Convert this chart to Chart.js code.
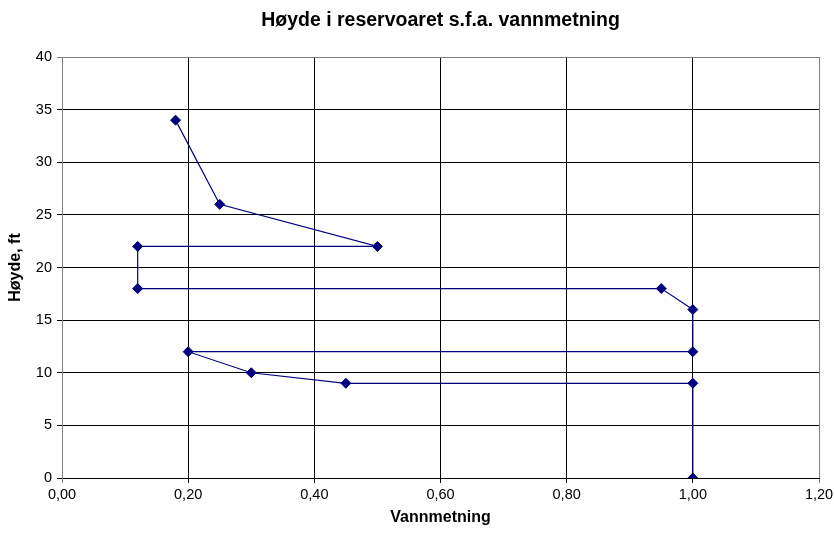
<!DOCTYPE html>
<html>
<head>
<meta charset="utf-8">
<script src="https://cdn.jsdelivr.net/npm/chart.js@4"></script>
<style>
  html, body { margin: 0; padding: 0; background: #fff; }
  #wrap { width: 834px; height: 540px; }
</style>
</head>
<body>
<div id="wrap"><canvas id="c" width="834" height="540"></canvas></div>
<script>
const chartTitle = 'Høyde i reservoaret s.f.a. vannmetning';
const xAxisTitle = 'Vannmetning';
const yAxisTitle = 'Høyde, ft';
const vannmetning = [0.18, 0.25, 0.50, 0.12, 0.12, 0.95, 1.00, 1.00, 0.20, 0.30, 0.45, 1.00, 1.00];
const hoyde       = [34,   26,   22,   22,   18,   18,   16,   12,   12,   10,   9,    9,    0];
const xTicks = [0, 0.2, 0.4, 0.6, 0.8, 1.0, 1.2];
const yTicks = [0, 5, 10, 15, 20, 25, 30, 35, 40];

const points = vannmetning.map((x, i) => ({ x: x, y: hoyde[i] }));
const FONT = '"Liberation Sans", Arial, sans-serif';
const GRAY = '#808080';

const titlePlugin = {
  id: 'customTitle',
  afterDraw(chart) {
    const ctx = chart.ctx;
    const a = chart.chartArea;
    ctx.save();
    ctx.font = 'bold 19.5px ' + FONT;
    ctx.fillStyle = '#000';
    ctx.textAlign = 'center';
    ctx.textBaseline = 'middle';
    ctx.fillText(chartTitle, (a.left + a.right) / 2, 21);
    ctx.restore();
  }
};

new Chart(document.getElementById('c'), {
  type: 'scatter',
  data: {
    datasets: [{
      data: points,
      showLine: true,
      borderColor: '#000080',
      borderWidth: 1.2,
      backgroundColor: '#000080',
      pointStyle: 'rectRot',
      pointRadius: 5,
      pointHoverRadius: 5,
      pointBorderWidth: 1,
      pointBorderColor: '#000080',
      tension: 0
    }]
  },
  plugins: [titlePlugin],
  options: {
    responsive: false,
    animation: false,
    events: [],
    layout: { padding: { top: 57, right: 15, bottom: 0, left: 0 } },
    plugins: { legend: { display: false }, tooltip: { enabled: false }, title: { display: false } },
    scales: {
      x: {
        type: 'linear',
        min: 0, max: 1.2,
        afterBuildTicks(scale) { scale.ticks = xTicks.map(v => ({ value: v })); },
        afterFit(scale) { scale.height = 62; scale.paddingRight = 0; },
        ticks: {
          color: '#000',
          font: { family: FONT, size: 14.5 },
          padding: 3,
          maxRotation: 0,
          autoSkip: false,
          callback: v => v.toFixed(2).replace('.', ',')
        },
        grid: {
          color: c => (c.tick && (Math.abs(c.tick.value) < 1e-9 || Math.abs(c.tick.value - 1.2) < 1e-9)) ? GRAY : '#000',
          lineWidth: 1,
          tickLength: 5
        },
        border: { color: '#000', width: 1 },
        title: {
          display: true,
          text: xAxisTitle,
          color: '#000',
          font: { family: FONT, size: 16, weight: 'bold' },
          padding: { top: 13, bottom: 13 }
        }
      },
      y: {
        type: 'linear',
        min: 0, max: 40,
        afterBuildTicks(scale) { scale.ticks = yTicks.map(v => ({ value: v })); },
        afterFit(scale) { scale.width = 62; },
        ticks: {
          color: '#000',
          font: { family: FONT, size: 14.5 },
          padding: 5,
          autoSkip: false
        },
        grid: {
          color: c => (c.tick && c.tick.value === 40) ? GRAY : '#000',
          lineWidth: 1,
          tickLength: 5
        },
        border: { color: GRAY, width: 1 },
        title: {
          display: true,
          text: yAxisTitle,
          color: '#000',
          font: { family: FONT, size: 16, weight: 'bold' },
          padding: { top: 6, bottom: 6 }
        }
      }
    }
  }
});
</script>
</body>
</html>
